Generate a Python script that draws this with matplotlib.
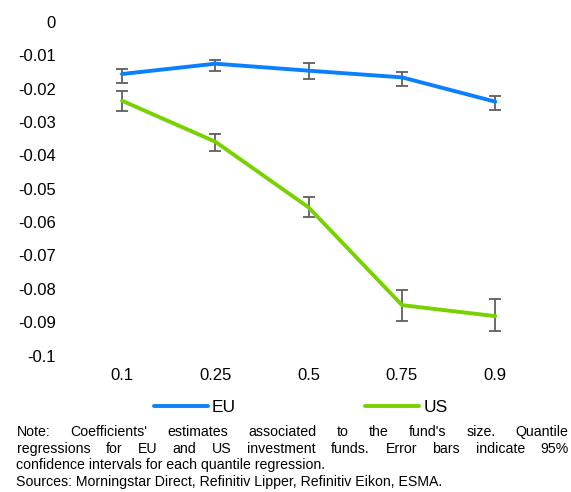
import matplotlib
matplotlib.use('Agg')
import matplotlib.pyplot as plt
import numpy as np

plt.rcParams['font.family'] = ['Liberation Sans', 'DejaVu Sans']

quantiles = ['0.1', '0.25', '0.5', '0.75', '0.9']

eu_coef = [-0.0156, -0.0125, -0.0146, -0.0166, -0.0239]
eu_low = [-0.0184, -0.0146, -0.0171, -0.0191, -0.0265]
eu_high = [-0.0141, -0.0114, -0.0122, -0.0151, -0.0221]

us_coef = [-0.0236, -0.0359, -0.0556, -0.0849, -0.0882]
us_low = [-0.0267, -0.0386, -0.0584, -0.0896, -0.0927]
us_high = [-0.0207, -0.0335, -0.0526, -0.0805, -0.0831]

yticks = [0, -0.01, -0.02, -0.03, -0.04, -0.05, -0.06, -0.07, -0.08, -0.09, -0.1]
ytick_labels = ['0', '-0.01', '-0.02', '-0.03', '-0.04', '-0.05', '-0.06',
                '-0.07', '-0.08', '-0.09', '-0.1']

note_lines = [
    "Note: Coefficients' estimates associated to the fund's size. Quantile",
    "regressions for EU and US investment funds. Error bars indicate 95%",
    "confidence intervals for each quantile regression.",
    "Sources: Morningstar Direct, Refinitiv Lipper, Refinitiv Eikon, ESMA.",
]

W, H = 571, 492
fig = plt.figure(figsize=(W / 100, H / 100), dpi=100)
ax = fig.add_axes([75.3 / W, 1 - 355.5 / H, (542 - 75.3) / W, (355.5 - 22) / H])

x = np.arange(len(quantiles))
blue = '#0A80FF'
green = '#78D200'
err_col = '#5F5F5F'

for coef, low, high, col, name in [(eu_coef, eu_low, eu_high, blue, 'EU'),
                                   (us_coef, us_low, us_high, green, 'US')]:
    coef = np.array(coef)
    yerr = [coef - np.array(low), np.array(high) - coef]
    ax.errorbar(x, coef, yerr=yerr, fmt='none', ecolor=err_col, elinewidth=1.3,
                capsize=4.5, capthick=1.3, zorder=2)
    ax.plot(x, coef, color=col, lw=2.8, solid_capstyle='round', label=name, zorder=3)

ax.set_xlim(-0.5, len(quantiles) - 0.5)
ax.set_ylim(-0.1, 0)
ax.set_xticks(x)
ax.set_xticklabels(quantiles)
ax.set_yticks(yticks)
ax.set_yticklabels(ytick_labels)
ax.tick_params(axis='both', length=0, labelsize=12)
ax.tick_params(axis='y', pad=14)
ax.tick_params(axis='x', pad=9)
for s in ax.spines.values():
    s.set_visible(False)

fig.legend(loc='center', bbox_to_anchor=(300.7 / W, 1 - 407.3 / H), ncol=2,
           frameon=False, fontsize=12.5, handlelength=3.1, handletextpad=0.25,
           columnspacing=7.45, borderpad=0, borderaxespad=0)

# note block: first two lines justified between left and right margins
fig.canvas.draw()
renderer = fig.canvas.get_renderer()
left_px, right_px = 16.5, 568.5
line_y = [431.7, 449.3, 465.0, 481.7]
note_size = 10.2
for i, line in enumerate(note_lines):
    yf = 1 - line_y[i] / H
    if i < 2:
        words = line.split(' ')
        txts = [fig.text(0, yf, w, fontsize=note_size, va='center', ha='left') for w in words]
        widths = [t.get_window_extent(renderer).width for t in txts]
        gap = (right_px - left_px - sum(widths)) / (len(words) - 1)
        pos = left_px
        for t, w in zip(txts, widths):
            t.set_x(pos / W)
            pos += w + gap
    else:
        fig.text(left_px / W, yf, line, fontsize=note_size, va='center', ha='left')

fig.savefig('out.png', dpi=100)
